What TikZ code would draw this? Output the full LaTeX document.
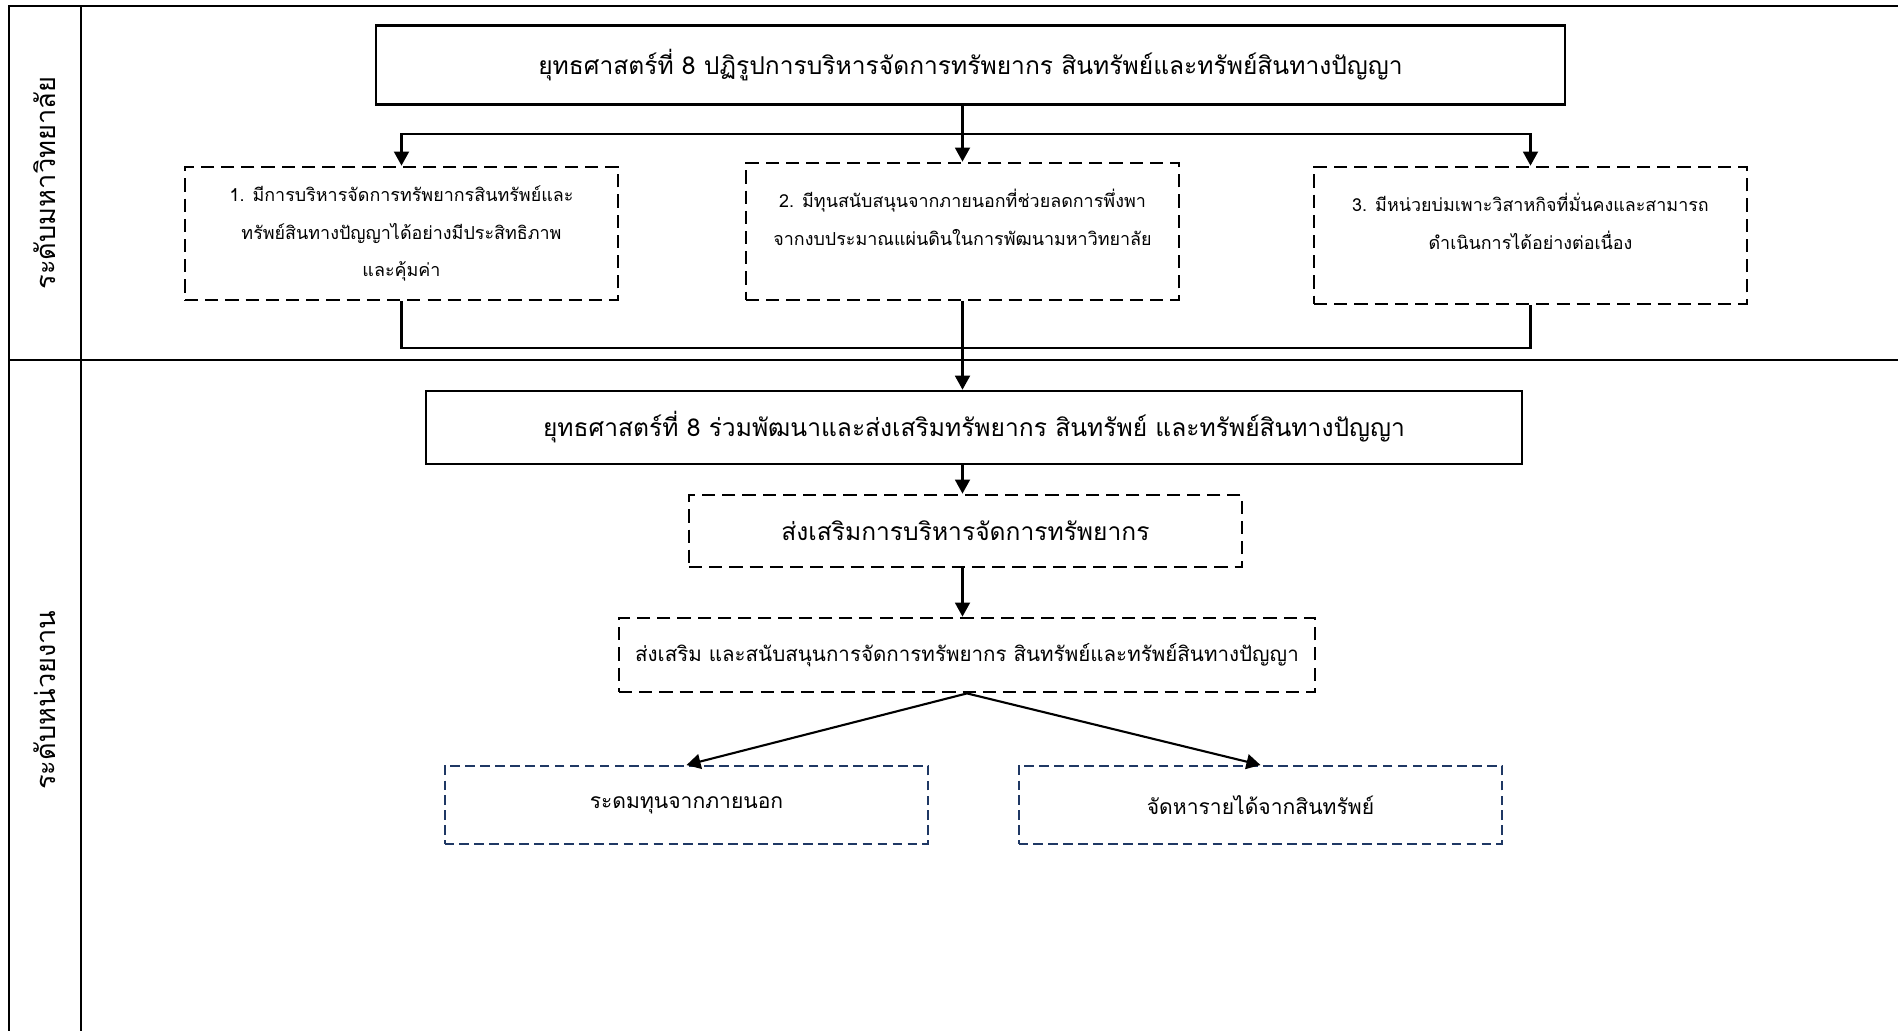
\documentclass[tikz,border=0pt]{standalone}
\usepackage{fontspec}
\setmainfont[Script=Thai]{Loma}
\usepackage{tikz}
\usetikzlibrary{arrows.meta}
\definecolor{hexcolor0x1f3864}{rgb}{0.122,0.220,0.392}
\definecolor{myblack}{rgb}{0.000,0.000,0.000}
\definecolor{mywhite}{rgb}{1.000,1.000,1.000}
\tikzstyle{frame}=[draw=myblack,line width=1.4pt]
\tikzstyle{mainbox}=[rectangle,draw=myblack,fill=mywhite,line width=1.5pt,font=\fontsize{14}{17}\selectfont]
\tikzstyle{goalbox}=[rectangle,draw=myblack,line width=1.6pt,dash pattern=on 7.5pt off 4pt,minimum width=8.66cm,minimum height=2.7cm,align=center,font=\fontsize{10.2}{21.5}\selectfont]
\tikzstyle{stepbox}=[rectangle,draw=myblack,line width=1.6pt,dash pattern=on 7.5pt off 4pt,minimum height=1.44cm]
\tikzstyle{leafbox}=[rectangle,draw=hexcolor0x1f3864,line width=1.1pt,dash pattern=on 5.5pt off 3pt,minimum width=9.68cm,minimum height=1.56cm,font=\fontsize{12}{14}\selectfont]
\tikzstyle{tier}=[rotate=90,font=\fontsize{15.5}{18}\selectfont]
\tikzstyle{flow}=[draw=myblack,line width=1.2pt,-{Triangle[length=8pt,width=8.5pt]}]
\tikzstyle{link}=[draw=myblack,line width=1.2pt]

\begin{document}
\begin{tikzpicture}[x=0.02cm,y=-0.02cm]
	\useasboundingbox (0,0) rectangle (1898,1031);
	% table lines
	\draw [style=frame] (1898,6) -- (9,6) -- (9,1031);
	\draw [style=frame] (81,6) -- (81,1031);
	\draw [style=frame] (9,360) -- (1898,360);
	\node [style=tier] (9) at (45,183) {ระดับมหาวิทยาลัย};
	\node [style=tier] (10) at (45,700) {ระดับหน่วยงาน};
	% university level
	\node [style=mainbox,minimum width=23.78cm,minimum height=1.58cm] (0) at (970.5,65) {ยุทธศาสตร์ที่ 8 ปฏิรูปการบริหารจัดการทรัพยากร สินทรัพย์และทรัพย์สินทางปัญญา};
	\node [style=goalbox,minimum height=2.66cm] (1) at (401.5,233.5) {1. มีการบริหารจัดการทรัพยากรสินทรัพย์และ\\ทรัพย์สินทางปัญญาได้อย่างมีประสิทธิภาพ\\และคุ้มค่า};
	\node [style=goalbox,minimum height=2.74cm] (2) at (962.5,231.5) {2. มีทุนสนับสนุนจากภายนอกที่ช่วยลดการพึ่งพา\\จากงบประมาณแผ่นดินในการพัฒนามหาวิทยาลัย\\[-5pt]\mbox{}};
	\node [style=goalbox,minimum height=2.74cm] (3) at (1530.5,235.5) {3. มีหน่วยบ่มเพาะวิสาหกิจที่มั่นคงและสามารถ\\ดำเนินการได้อย่างต่อเนื่อง\\[-5pt]\mbox{}};
	\coordinate (12) at (963,134);
	\coordinate (13) at (963,348);
	\draw [style=flow] (2.north |- 0.south) -- (2.north);
	\draw [style=flow] (12) -| (1.north);
	\draw [style=flow] (12) -| (3.north);
	\draw [style=link] (1.south) |- (13) -| (3.south);
	% unit level
	\node [style=mainbox,minimum width=21.92cm,minimum height=1.46cm] (4) at (974,427.5) {ยุทธศาสตร์ที่ 8 ร่วมพัฒนาและส่งเสริมทรัพยากร สินทรัพย์ และทรัพย์สินทางปัญญา};
	\node [style=stepbox,minimum width=11.06cm,font=\fontsize{14}{17}\selectfont] (5) at (965.5,531) {ส่งเสริมการบริหารจัดการทรัพยากร};
	\node [style=stepbox,minimum width=13.92cm,minimum height=1.48cm,font=\fontsize{11.7}{14}\selectfont] (6) at (967,655) {ส่งเสริม และสนับสนุนการจัดการทรัพยากร สินทรัพย์และทรัพย์สินทางปัญญา};
	\node [style=leafbox] (7) at (686.5,805) {ระดมทุนจากภายนอก};
	\node [style=leafbox] (8) at (1260.5,805) {จัดหารายได้จากสินทรัพย์};
	\draw [style=flow] (2.south) -- (2.south |- 4.north);
	\draw [style=flow] (2.south |- 4.south) -- (2.south |- 5.north);
	\draw [style=flow] (2.south |- 5.south) -- (2.south |- 6.north);
	\draw [style=flow] (6.south) -- (7.north);
	\draw [style=flow] (6.south) -- (8.north);
\end{tikzpicture}
\end{document}
